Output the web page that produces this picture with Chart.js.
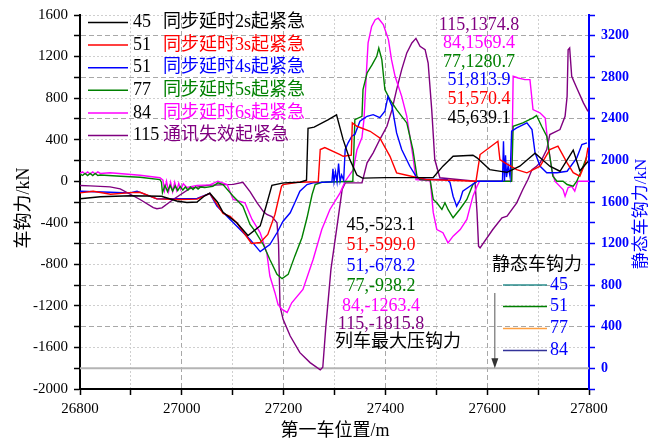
<!DOCTYPE html>
<html>
<head>
<meta charset="utf-8">
<script src="https://cdn.jsdelivr.net/npm/chart.js@4.4.1/dist/chart.umd.min.js"></script>
<style>
  html, body { margin: 0; padding: 0; background: #fff; }
  #wrap { width: 656px; height: 441px; }
</style>
</head>
<body>
<div id="wrap"><canvas id="canvasDiv" width="656" height="441"></canvas></div>
<script>
//case names + labels
const caseIds = ["45", "51", "51", "77", "84", "115"];
const caseNames = ["同步延时2s起紧急", "同步延时3s起紧急", "同步延时4s起紧急", "同步延时5s起紧急", "同步延时6s起紧急", "通讯失效起紧急"];
const caseColors = ["#000000", "#ff0000", "#0000ff", "#008000", "#ff00ff", "#800080"];
const peakLabels = ["115,1374.8", "84,1569.4", "77,1280.7", "51,813.9", "51,570.4", "45,639.1"];
const peakColors = ["#800080", "#ff00ff", "#008000", "#0000ff", "#ff0000", "#000000"];
const minLabels = ["45,-523.1", "51,-599.0", "51,-678.2", "77,-938.2", "84,-1263.4", "115,-1815.8"];
const minColors = ["#000000", "#ff0000", "#0000ff", "#008000", "#ff00ff", "#800080"];
const staticIds = ["45", "51", "77", "84"];
const staticColors = ["#2a8c8c", "#008000", "#ffa040", "#333399"];

//series: position (m) and coupler force (kN)
const pos45 = [26800,26840,26900,26960,26990,27010,27030,27045,27055,27070,27081,27108,27130,27154,27165,27177,27200,27232,27245,27248,27260,27287,27304,27317,27330,27344,27355,27400,27494,27513,27533,27572,27580,27605,27639,27664,27694,27723,27743,27769,27782,27798];
const f45 = [-169,-150,-140,-145,-190,-205,-200,-140,-115,-200,-300,-400,-523,-430,-250,-40,-16,-10,10,510,520,590,639,400,210,60,30,35,36,145,240,250,225,112,85,145,270,145,96,300,100,190];

const pos51a = [26800,26826,26860,26900,26918,26951,26996,27030,27055,27081,27095,27108,27137,27154,27169,27183,27196,27199,27228,27268,27272,27281,27311,27317,27333,27335,27344,27370,27389,27409,27422,27442,27481,27578,27586,27621,27625,27635,27658,27678,27704,27723,27739,27757,27769,27782,27793,27798];
const f51a = [-112,-96,-125,-110,-106,-170,-176,-172,-118,-310,-337,-400,-599,-590,-512,-320,-48,-32,-10,-5,305,324,257,240,250,561,529,481,417,240,81,58,16,0,257,385,209,177,112,81,145,305,337,177,83,48,180,324];

const pos51b = [26800,26859,26898,26912,26951,27030,27055,27069,27095,27134,27154,27173,27187,27199,27213,27222,27232,27246,27258,27295,27297,27299,27302,27305,27308,27311,27314,27318,27321,27327,27334,27340,27350,27364,27376,27389,27399,27405,27413,27422,27432,27448,27462,27482,27521,27527,27533,27540,27547,27552,27566,27580,27630,27632,27634,27636,27638,27641,27645,27648,27658,27678,27688,27694,27704,27717,27737,27757,27776,27786,27796];
const f51b = [-96,-106,-112,-96,-170,-166,-118,-240,-368,-560,-678,-609,-496,-385,-304,-208,-96,-32,-16,-5,120,-5,90,-5,170,0,60,10,305,372,433,450,577,625,641,612,673,814,721,465,305,144,33,16,16,-13,-144,-240,-176,-96,-48,0,0,385,0,250,40,150,40,481,513,561,497,273,144,81,81,96,225,353,369];

const pos77 = [26800,26805,26810,26815,26820,26825,26830,26835,26840,26880,26918,26957,26960,26962,26967,26972,26977,26982,26987,26992,26997,27002,27007,27012,27017,27022,27027,27032,27037,27045,27061,27071,27081,27101,27120,27134,27144,27160,27173,27187,27197,27209,27222,27236,27246,27256,27262,27275,27336,27340,27354,27356,27364,27374,27383,27387,27393,27399,27409,27422,27442,27454,27462,27468,27488,27491,27494,27501,27511,27517,27523,27533,27546,27560,27572,27580,27648,27651,27670,27690,27697,27707,27717,27723,27729,27737,27749,27757,27769,27776,27786,27796];
const f77 = [70,55,75,55,75,55,75,55,60,48,38,16,-10,-110,-40,-100,-40,-95,-45,-90,-50,-85,-55,-85,-55,-80,-55,-75,-55,-60,-50,-16,-32,-144,-240,-416,-481,-609,-753,-897,-938,-897,-721,-544,-352,-128,-32,-10,0,593,625,882,1042,1122,1202,1281,1170,882,785,689,561,305,48,16,10,-80,-176,-208,-272,-208,-272,-352,-272,-176,-32,0,0,529,561,609,632,529,433,240,48,0,0,-32,-48,0,112,240];

const pos84 = [26800,26805,26810,26815,26820,26825,26830,26835,26840,26859,26918,26957,26963,26966,26970,26974,26978,26982,26986,26990,26994,26998,27003,27010,27030,27055,27071,27089,27101,27124,27138,27154,27167,27173,27183,27189,27197,27207,27216,27238,27258,27275,27291,27311,27321,27337,27344,27354,27358,27363,27366,27373,27380,27386,27396,27406,27412,27419,27432,27442,27448,27455,27460,27488,27491,27494,27501,27513,27523,27533,27547,27560,27572,27580,27585,27648,27651,27661,27674,27684,27690,27704,27714,27719,27727,27733,27749,27753,27759,27766,27772,27778,27800];
const f84 = [75,90,70,90,70,90,70,90,75,81,58,33,10,-90,0,-100,-10,-100,-10,-90,-20,-80,-25,-60,-40,-35,0,-32,-176,-208,-368,-496,-689,-913,-1073,-1186,-1234,-1263,-1170,-1042,-753,-465,-272,-112,0,112,300,420,600,1074,1331,1490,1555,1569,1507,1363,1170,1010,817,625,433,209,16,5,-144,-300,-465,-496,-593,-529,-465,-368,-144,-48,0,0,1010,994,978,978,689,657,609,369,112,0,-80,-144,-60,-50,-96,0,0];

const pos115 = [26800,26820,26859,26879,26918,26944,26951,26961,26983,27016,27049,27101,27120,27134,27148,27160,27167,27177,27187,27190,27193,27199,27213,27232,27252,27272,27277,27283,27293,27305,27315,27321,27354,27364,27376,27389,27403,27413,27422,27432,27442,27452,27460,27468,27478,27484,27491,27497,27507,27576,27580,27583,27586,27611,27629,27639,27658,27670,27680,27688,27697,27704,27717,27723,27743,27753,27757,27759,27762,27766,27776,27789,27798];
const f115 = [-41,-45,-54,-73,-176,-255,-265,-256,-176,-70,-40,-30,-10,-100,-208,-290,-320,-340,-400,-593,-1202,-1330,-1490,-1650,-1746,-1816,-1790,-1400,-849,-433,-80,-16,-16,177,273,401,529,689,882,1074,1235,1331,1375,1298,1266,1138,689,209,33,0,-300,-625,-641,-465,-352,-337,-208,-80,16,112,144,177,305,449,497,625,817,1266,1283,1010,898,754,673];

//max compressive force line
const limitPos = [26800, 27800];
const limitF = [-1800, -1800];

const SERIF = '"Liberation Serif", "Noto Sans CJK SC", serif';

function pts(xs, ys) {
  return xs.map((x, i) => ({ x: x, y: ys[i] }));
}

const seriesPos = [pos45, pos51a, pos51b, pos77, pos84, pos115];
const seriesF = [f45, f51a, f51b, f77, f84, f115];

var datasets = [];
for (let i = 0; i < seriesPos.length; i++) {
  datasets.push({
    label: caseIds[i],
    data: pts(seriesPos[i], seriesF[i]),
    borderColor: caseColors[i],
    borderWidth: 1.4,
    pointRadius: 0,
    yAxisID: "y",
  });
}
datasets.push({
  label: "limit",
  data: pts(limitPos, limitF),
  borderColor: "#b4b4b4",
  borderWidth: 2,
  pointRadius: 0,
  yAxisID: "y",
});

//text overlays
const overlay = {
  id: "overlay",
  afterDraw(chart) {
    const ctx = chart.ctx;
    const xs = chart.scales.x;
    const ys = chart.scales.y;
    ctx.save();
    ctx.setLineDash([]);
    ctx.textBaseline = "middle";

    //case legend
    ctx.font = "18px " + SERIF;
    for (let i = 0; i < caseIds.length; i++) {
      const y = 22.5 + i * 22.6;
      ctx.strokeStyle = caseColors[i];
      ctx.lineWidth = 1.5;
      ctx.beginPath();
      ctx.moveTo(88, y);
      ctx.lineTo(128, y);
      ctx.stroke();
      ctx.textAlign = "left";
      ctx.fillStyle = "#000";
      ctx.fillText(caseIds[i], 133, y);
      ctx.fillStyle = caseColors[i];
      ctx.fillText(caseNames[i], 163, y);
    }

    //peak labels
    ctx.textAlign = "center";
    const peakY = [25.5, 43.5, 62, 80.5, 99, 118];
    for (let i = 0; i < peakLabels.length; i++) {
      ctx.fillStyle = peakColors[i];
      ctx.fillText(peakLabels[i], 479, peakY[i]);
    }

    //min labels
    const minY = [225, 245.5, 266, 286.5, 306.5, 324];
    for (let i = 0; i < minLabels.length; i++) {
      ctx.fillStyle = minColors[i];
      ctx.fillText(minLabels[i], 381, minY[i]);
    }
    ctx.fillStyle = "#000";
    ctx.fillText("列车最大压钩力", 398, 342);

    //arrow to -1800 line
    const ax = xs.getPixelForValue(27615);
    const ay = ys.getPixelForValue(-1800);
    ctx.strokeStyle = "#555";
    ctx.lineWidth = 1;
    ctx.beginPath();
    ctx.moveTo(ax, 293);
    ctx.lineTo(ax, ay - 8);
    ctx.stroke();
    ctx.fillStyle = "#333";
    ctx.beginPath();
    ctx.moveTo(ax - 3.5, ay - 10);
    ctx.lineTo(ax + 3.5, ay - 10);
    ctx.lineTo(ax, ay);
    ctx.closePath();
    ctx.fill();

    //static coupler legend
    ctx.fillStyle = "#000";
    ctx.fillText("静态车钩力", 537, 265);
    const stY = [285, 306.5, 328.5, 350.5];
    for (let i = 0; i < staticIds.length; i++) {
      ctx.strokeStyle = staticColors[i];
      ctx.lineWidth = 1.5;
      ctx.beginPath();
      ctx.moveTo(503, stY[i]);
      ctx.lineTo(547, stY[i]);
      ctx.stroke();
      ctx.textAlign = "left";
      ctx.fillStyle = "#0000ff";
      ctx.fillText(staticIds[i], 550, stY[i]);
    }

    //axis titles
    ctx.textAlign = "center";
    ctx.font = "18px " + SERIF;
    ctx.fillStyle = "#000";
    ctx.fillText("第一车位置/m", 335, 431);
    ctx.save();
    ctx.translate(24, 208);
    ctx.rotate(-Math.PI / 2);
    ctx.fillText("车钩力/kN", 0, 0);
    ctx.restore();
    ctx.save();
    ctx.font = "17px " + SERIF;
    ctx.translate(642, 214);
    ctx.rotate(-Math.PI / 2);
    ctx.fillStyle = "#0000ff";
    ctx.fillText("静态车钩力/kN", 0, 0);
    ctx.restore();

    ctx.restore();
  },
};

const LIGHT = "#cfcfcf";
const DARK = "#a8a8a8";

var chart = new Chart(document.getElementById("canvasDiv"), {
  type: "line",
  data: { datasets: datasets },
  plugins: [overlay],
  options: {
    responsive: false,
    animation: false,
    layout: { padding: { top: 15, left: 0, right: 0, bottom: 0 } },
    plugins: { legend: { display: false }, tooltip: { enabled: false } },
    scales: {
      x: {
        type: "linear",
        min: 26800,
        max: 27800,
        afterFit: (s) => { s.height = 52; },
        ticks: {
          stepSize: 100,
          autoSkip: false,
          maxRotation: 0,
          padding: 5,
          color: "#000",
          font: { family: SERIF, size: 15 },
          callback: (v) => (v % 200 === 0 ? String(v) : ""),
        },
        grid: {
          color: (c) => (c.tick && c.tick.value % 200 === 0 ? DARK : LIGHT),
          lineWidth: 1,
          tickLength: 6,
          tickColor: "#000",
          tickWidth: 1.5,
        },
        border: {
          color: "#000",
          width: 2,
          dash: (c) => (c.tick ? (c.tick.value % 200 === 0 ? [5, 3] : [2, 2]) : []),
        },
      },
      y: {
        position: "left",
        min: -2000,
        max: 1600,
        afterFit: (s) => { s.width = 80; },
        ticks: {
          stepSize: 200,
          autoSkip: false,
          padding: 6,
          color: "#000",
          font: { family: SERIF, size: 15 },
          callback: (v) => (v % 400 === 0 ? String(v) : ""),
        },
        grid: {
          color: (c) => (c.tick && c.tick.value % 400 === 0 ? LIGHT : DARK),
          lineWidth: 1,
          tickLength: 6,
          tickColor: "#000",
          tickWidth: 1.5,
        },
        border: {
          color: "#000",
          width: 2,
          dash: (c) => (c.tick ? (c.tick.value % 400 === 0 ? [2, 2] : [5, 3]) : []),
        },
      },
      y2: {
        position: "right",
        min: -200,
        max: 3400,
        afterFit: (s) => { s.width = 67; },
        ticks: {
          stepSize: 200,
          autoSkip: false,
          padding: 6,
          color: "#0000ff",
          font: { family: SERIF, size: 14, weight: "bold" },
          callback: (v) => (v % 400 === 0 && v >= 0 ? String(v) : ""),
        },
        grid: {
          drawOnChartArea: false,
          tickLength: 6,
          tickColor: "#0000ff",
          tickWidth: 1.5,
        },
        border: { color: "#0000ff", width: 2 },
      },
    },
  },
});
</script>
</body>
</html>
